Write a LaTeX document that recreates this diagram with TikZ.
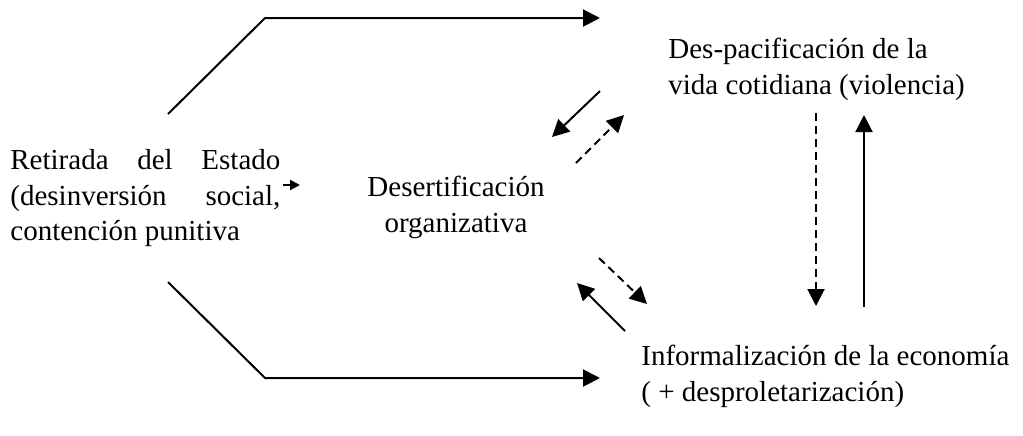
\documentclass[tikz,border=0pt]{standalone}
\usepackage{fontspec}
\setmainfont{Liberation Serif}
\usetikzlibrary{arrows.meta, positioning, calc}

\begin{document}
\begin{tikzpicture}[x=0.5pt,y=-0.5pt,
    every node/.style={font=\fontsize{14.5}{17.8}\selectfont, inner sep=0pt},
    linea/.style={line width=1pt},
    flecha/.style={linea, -{Triangle[length=8.5pt,width=8.5pt]}},
    flechita/.style={linea, -{Triangle[length=5pt,width=5pt]}},
    punteada/.style={flecha, dash pattern=on 4pt off 2.5pt}]
    \useasboundingbox (0,0) rectangle (1023,435);

    \node[anchor=north west, text width=135pt, align=justify] (Retirada) at (10,149) {Retirada del Estado\linebreak (desinversión social,\linebreak contención punitiva};
    \node[anchor=north, align=center] (Desert) at (456,176) {Desertificación\\organizativa};
    \node[anchor=north west, align=left] (Despac) at (668,38) {Des-pacificación de la\\vida cotidiana (violencia)};
    \node[anchor=north west, align=left] (Informal) at (641,345) {Informalización de la economía\\( + desproletarización)};

    % ramas de la retirada
    \coordinate (T0) at (168,114);
    \coordinate (T1) at (265,18);
    \coordinate (T2) at (600,18);
    \coordinate (B0) at (168,282);
    \coordinate (B1) at (265,378);
    \coordinate (B2) at (600,378);
    \draw[flecha] (T0) -- (T1) -- (T2);
    \draw[flecha] (B0) -- (B1) -- (B2);
    \coordinate (R0) at (283,185);
    \coordinate (R1) at (300,185);
    \draw[flechita] (R0) -- (R1);

    % desertificacion <-> violencia
    \coordinate (V0) at (600,91);
    \coordinate (V1) at (552,137);
    \coordinate (V2) at (576,163);
    \coordinate (V3) at (624,115);
    \draw[flecha] (V0) -- (V1);
    \draw[punteada] (V2) -- (V3);

    % desertificacion <-> economia
    \coordinate (E0) at (599,258);
    \coordinate (E1) at (647,304);
    \coordinate (E2) at (625,331);
    \coordinate (E3) at (577,283);
    \draw[punteada] (E0) -- (E1);
    \draw[flecha] (E2) -- (E3);

    % violencia <-> economia
    \coordinate (D0) at (816,113);
    \coordinate (D1) at (816,306);
    \coordinate (U0) at (864,307);
    \coordinate (U1) at (864,115);
    \draw[punteada] (D0) -- (D1);
    \draw[flecha] (U0) -- (U1);
\end{tikzpicture}
\end{document}
